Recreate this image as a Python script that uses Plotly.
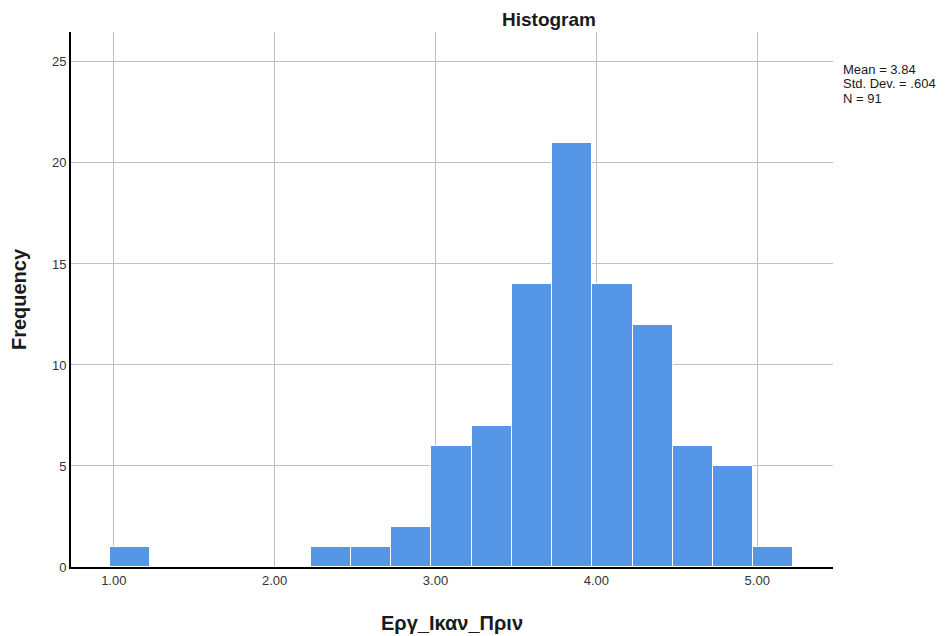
import plotly.graph_objects as go

bin_centers = [1.10, 2.35, 2.60, 2.85, 3.10, 3.35, 3.60, 3.85, 4.10, 4.35, 4.60, 4.85, 5.10]
counts = [1, 1, 1, 2, 6, 7, 14, 21, 14, 12, 6, 5, 1]
bin_width = 0.25
x_ticks = [1, 2, 3, 4, 5]
x_tick_labels = ["1.00", "2.00", "3.00", "4.00", "5.00"]
y_ticks = [0, 5, 10, 15, 20, 25]
stats_lines = ["Mean = 3.84", "Std. Dev. = .604", "N = 91"]

fig = go.Figure()
fig.add_trace(go.Bar(
    x=bin_centers, y=counts, width=[bin_width] * len(counts),
    marker=dict(color="#5596e6", line=dict(color="white", width=1)),
    hoverinfo="x+y",
))

font = "Liberation Sans, Arial, sans-serif"
annotations = [
    dict(text="<b>Histogram</b>", xref="paper", yref="paper",
         x=(549 - 71) / 762, y=1, yshift=0, xanchor="center", yanchor="bottom",
         showarrow=False, font=dict(size=19, color="#1a1a1a", family=font)),
]
for i, line in enumerate(stats_lines):
    annotations.append(dict(
        text=line, xref="paper", yref="paper",
        x=(843 - 71) / 762, y=(567 - (69 + 14.5 * i)) / 535,
        xanchor="left", yanchor="middle", align="left", showarrow=False,
        xshift=-2, font=dict(size=13, color="#1a1a1a", family=font)))

fig.update_layout(
    width=940, height=628,
    margin=dict(l=63, r=115, t=24, b=69),
    paper_bgcolor="white", plot_bgcolor="white",
    showlegend=False, bargap=0,
    font=dict(family=font, size=13, color="#333333"),
    xaxis=dict(
        range=[0.734, 5.471], tickvals=x_ticks, ticktext=x_tick_labels,
        showgrid=True, gridcolor="#c0c0c0", gridwidth=1,
        showline=True, linecolor="black", linewidth=2,
        zeroline=False, ticks="", ticklen=0, automargin=False,
        title=dict(text="<b>Εργ_Ικαν_Πριν</b>", font=dict(size=20, color="#1a1a1a"), standoff=29),
        tickfont=dict(size=13, color="#333333"),
    ),
    yaxis=dict(
        range=[0, 26.48], tickvals=y_ticks,
        showgrid=True, gridcolor="#c0c0c0", gridwidth=1,
        showline=True, linecolor="black", linewidth=2,
        zeroline=False, ticks="", ticklen=0, automargin=False,
        title=dict(text="<b>Frequency</b>", font=dict(size=20, color="#1a1a1a"), standoff=26),
        tickfont=dict(size=13, color="#333333"),
    ),
    annotations=annotations,
)

fig.write_html("out.html")
